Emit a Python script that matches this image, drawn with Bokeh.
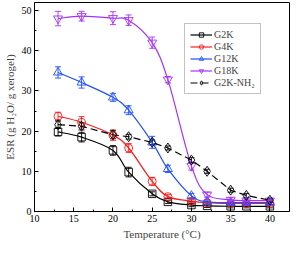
import numpy as np
from bokeh.plotting import figure
from bokeh.models import (ColumnDataSource, Whisker, TeeHead, Legend, LegendItem,
                          FixedTicker, Range1d)
from bokeh.embed import file_html
from bokeh.resources import INLINE

# ---- data ----
temps = [13, 16, 20, 22, 25, 27, 30, 32, 35, 37, 40]
g2k = [19.8, 18.5, 15.2, 9.8, 4.4, 2.4, 1.6, 1.4, 1.3, 1.3, 1.3]
g4k = [23.7, 22.2, 19.0, 15.8, 7.5, 3.7, 2.6, 2.2, 2.0, 2.0, 2.0]
g12k = [34.6, 32.1, 28.4, 25.2, 17.2, 10.6, 3.9, 2.4, 2.2, 2.2, 2.2]
g18k = [48.0, 48.6, 48.1, 47.6, 42.0, 32.8, 11.3, 4.2, 2.9, 2.7, 2.7]
g2k_nh2 = [21.6, 21.2, 19.1, 18.6, 17.2, 15.8, 12.8, 10.0, 5.3, 4.0, 2.8]

e2k = [1.0, 1.2, 1.2, 1.2, 0.5, 0.4, 0.4, 0.4, 0.4, 0.4, 0.4]
e4k = [1.0, 1.4, 1.3, 1.1, 1.0, 0.5, 0.4, 0.4, 0.4, 0.4, 0.4]
e12k = [1.4, 1.4, 1.0, 1.1, 1.5, 0.9, 0.6, 0.5, 0.4, 0.4, 0.4]
e18k = [1.8, 1.2, 1.6, 1.3, 1.4, 0.8, 1.0, 0.6, 0.5, 0.4, 0.4]
enh2 = [0.9, 0.9, 1.0, 0.6, 0.6, 0.5, 0.6, 0.5, 0.5, 0.5, 0.5]

x_ticks = [10, 15, 20, 25, 30, 35, 40]
x_minor = [12.5, 17.5, 22.5, 27.5, 32.5, 37.5]
y_ticks = [0, 10, 20, 30, 40, 50]
y_minor = [5, 15, 25, 35, 45]

FONT = "Liberation Serif"

p = figure(width=291, height=242, output_backend="svg", toolbar_location=None,
           x_range=Range1d(10, 42.5), y_range=Range1d(0, 52),
           min_border_left=4, min_border_right=2, min_border_top=2,
           min_border_bottom=4)
p.xgrid.visible = False
p.ygrid.visible = False
p.outline_line_color = "black"
p.outline_line_width = 1
p.background_fill_color = "white"
p.border_fill_color = "white"

p.xaxis.ticker = FixedTicker(ticks=x_ticks, minor_ticks=x_minor)
p.yaxis.ticker = FixedTicker(ticks=y_ticks, minor_ticks=y_minor)
for ax in (p.xaxis, p.yaxis):
    ax.major_tick_in = 4
    ax.major_tick_out = 0
    ax.minor_tick_in = 2
    ax.minor_tick_out = 0
    ax.axis_line_color = "black"
    ax.major_tick_line_color = "black"
    ax.minor_tick_line_color = "black"
    ax.major_label_text_font = FONT
    ax.major_label_text_font_size = "10px"
    ax.major_label_text_color = "black"
    ax.major_label_standoff = 3
    ax.axis_label_text_font = FONT
    ax.axis_label_text_font_size = "11px"
    ax.axis_label_text_font_style = "normal"
    ax.axis_label_standoff = 3
p.xaxis.axis_label = "Temperature (\u00b0C)"
p.yaxis.axis_label = "ESR (g H\u2082O/ g xerogel)"


def smooth(xs, ys):
    n = len(xs)
    d = dict(x0=[], y0=[], x1=[], y1=[], cx0=[], cy0=[], cx1=[], cy1=[])
    for i in range(n - 1):
        xm, ym = (xs[i - 1], ys[i - 1]) if i > 0 else (xs[i], ys[i])
        xp, yp = (xs[i + 2], ys[i + 2]) if i + 2 < n else (xs[i + 1], ys[i + 1])
        d["x0"].append(xs[i]); d["y0"].append(ys[i])
        d["x1"].append(xs[i + 1]); d["y1"].append(ys[i + 1])
        d["cx0"].append(xs[i] + (xs[i + 1] - xm) / 6.0)
        d["cy0"].append(ys[i] + (ys[i + 1] - ym) / 6.0)
        d["cx1"].append(xs[i + 1] - (xp - xs[i]) / 6.0)
        d["cy1"].append(ys[i + 1] - (yp - ys[i]) / 6.0)
    return ColumnDataSource(d)


series = [
    ("G2K", g2k, e2k, "black", "square", 7.5, False),
    ("G4K", g4k, e4k, "#ff1a1a", "circle", 8, False),
    ("G12K", g12k, e12k, "#1f4fff", "triangle", 9, False),
    ("G18K", g18k, e18k, "#a530ff", "inverted_triangle", 9, False),
    ("G2K-NH\u2082", g2k_nh2, enh2, "black", "diamond", 10, True),
]

items = []
for name, ys, es, color, marker, size, dashed in series:
    if dashed:
        ln = p.line(temps, ys, line_color=color, line_width=1.2, line_dash="7 4")
        leg_line = ln
    else:
        src = smooth(temps, ys)
        p.bezier(x0="x0", y0="y0", x1="x1", y1="y1", cx0="cx0", cy0="cy0",
                 cx1="cx1", cy1="cy1", source=src, line_color=color, line_width=1.2)
        leg_line = p.line(x=temps[:1], y=ys[:1], line_color=color, line_width=1.2)
    esrc = ColumnDataSource(dict(x=temps,
                                 upper=[a + b for a, b in zip(ys, es)],
                                 lower=[a - b for a, b in zip(ys, es)]))
    w = Whisker(base="x", upper="upper", lower="lower", source=esrc,
                line_color=color, line_width=0.9,
                upper_head=TeeHead(size=6, line_color=color, line_width=0.9),
                lower_head=TeeHead(size=6, line_color=color, line_width=0.9))
    p.add_layout(w)
    sc = p.scatter(temps, ys, marker=marker, size=size, line_color=color,
                   fill_alpha=0, line_width=0.9)
    items.append(LegendItem(label=name, renderers=[leg_line, sc]))

legend = Legend(items=items, location=(150, 117), label_text_font=FONT,
                label_text_font_size="10px", glyph_width=22, glyph_height=11,
                label_height=11, spacing=1, padding=5, margin=0,
                label_standoff=2, border_line_color="#888888",
                border_line_width=1, background_fill_color="white",
                background_fill_alpha=1)
p.add_layout(legend, "center")

open("out.html", "w").write(file_html(p, INLINE))
